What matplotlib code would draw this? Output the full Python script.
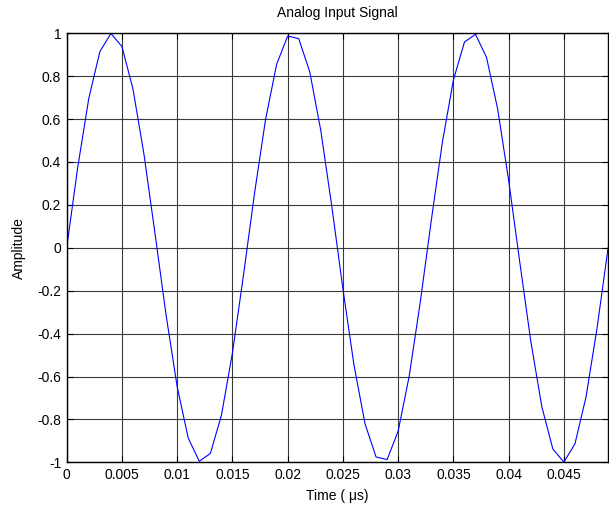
import matplotlib
matplotlib.use('Agg')
import matplotlib.pyplot as plt

# time samples (same units as the axis) and sampled amplitude
tiempo = [0.000, 0.001, 0.002, 0.003, 0.004, 0.005, 0.006, 0.007, 0.008, 0.009,
          0.010, 0.011, 0.012, 0.013, 0.014, 0.015, 0.016, 0.017, 0.018, 0.019,
          0.020, 0.021, 0.022, 0.023, 0.024, 0.025, 0.026, 0.027, 0.028, 0.029,
          0.030, 0.031, 0.032, 0.033, 0.034, 0.035, 0.036, 0.037, 0.038, 0.039,
          0.040, 0.041, 0.042, 0.043, 0.044, 0.045, 0.046, 0.047, 0.048, 0.049]
amplitud = [0.000, 0.375, 0.696, 0.914, 0.999, 0.938, 0.740, 0.434, 0.064, -0.315,
            -0.648, -0.887, -0.995, -0.959, -0.782, -0.491, -0.128, 0.254, 0.598, 0.855,
            0.987, 0.975, 0.820, 0.546, 0.191, -0.191, -0.546, -0.820, -0.975, -0.987,
            -0.855, -0.598, -0.254, 0.128, 0.491, 0.782, 0.959, 0.995, 0.887, 0.648,
            0.315, -0.064, -0.434, -0.740, -0.938, -0.999, -0.914, -0.696, -0.375, 0.000]

xticks = [0, 0.005, 0.01, 0.015, 0.02, 0.025, 0.03, 0.035, 0.04, 0.045]
xtick_labels = ["0", "0.005", "0.01", "0.015", "0.02", "0.025", "0.03", "0.035", "0.04", "0.045"]
yticks = [-1, -0.8, -0.6, -0.4, -0.2, 0, 0.2, 0.4, 0.6, 0.8, 1]
ytick_labels = ["-1", "-0.8", "-0.6", "-0.4", "-0.2", "0", "0.2", "0.4", "0.6", "0.8", "1"]

plt.rcParams['font.family'] = ['Liberation Sans', 'DejaVu Sans']
plt.rcParams['font.size'] = 10

fig = plt.figure(figsize=(6.09, 5.09), dpi=100)
ax = fig.add_axes([0.1095, 0.0917, 0.889, 0.843])

ax.plot(tiempo, amplitud, color='#0000ff', linewidth=0.8)

ax.set_xlim(0, 0.049)
ax.set_ylim(-1, 1)
ax.set_xticks(xticks)
ax.set_xticklabels(xtick_labels)
ax.set_yticks(yticks)
ax.set_yticklabels(ytick_labels)

ax.grid(True, color='#3a3a3a', linestyle='-', linewidth=0.8)
ax.tick_params(direction='in', length=4, width=0.8, top=True, right=True, pad=4)
for s in ax.spines.values():
    s.set_linewidth(1.0)

ax.set_title("Analog Input Signal", fontsize=10, pad=12)
ax.set_xlabel("Time ( μs)", fontsize=10, labelpad=5)
ax.set_ylabel("Amplitude", fontsize=10, labelpad=8)

fig.savefig('out.png', dpi=100)
